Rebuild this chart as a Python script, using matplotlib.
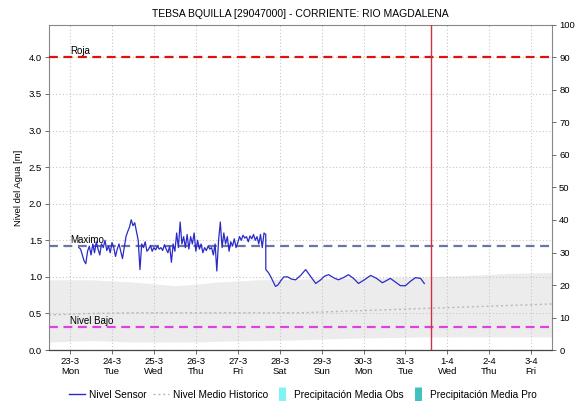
import numpy as np
import matplotlib
matplotlib.use("Agg")
import matplotlib.pyplot as plt
from matplotlib.lines import Line2D

plt.rcParams['font.family'] = ['Liberation Sans', 'DejaVu Sans']

# time axis in days, 0 = 23-3 00:00
day_labels = ['23-3\nMon', '24-3\nTue', '25-3\nWed', '26-3\nThu', '27-3\nFri', '28-3\nSat',
              '29-3\nSun', '30-3\nMon', '31-3\nTue', '1-4\nWed', '2-4\nThu', '3-4\nFri']

# sensor readings, hourly, starting 23-3 05:00
sensor_start = 0.21
sensor_hourly = [1.40, 1.38, 1.30, 1.22, 1.18, 1.35, 1.42, 1.30,
                 1.45, 1.33, 1.48, 1.38, 1.30, 1.45, 1.40, 1.50, 1.36, 1.42, 1.33,
                 1.47, 1.40, 1.28, 1.38, 1.45, 1.35, 1.25, 1.40,
                 1.55, 1.62, 1.68, 1.78, 1.70, 1.74, 1.62,
                 1.50, 1.10, 1.45, 1.40, 1.48, 1.35,
                 1.38, 1.43, 1.35, 1.40, 1.37, 1.42, 1.38, 1.40, 1.36, 1.44, 1.38, 1.33, 1.42, 1.20,
                 1.45, 1.35, 1.60, 1.40, 1.75, 1.45,
                 1.55, 1.40, 1.58, 1.38, 1.55, 1.45, 1.60, 1.35, 1.50,
                 1.38, 1.45, 1.33, 1.40, 1.36, 1.42, 1.38, 1.40, 1.30, 1.45,
                 1.08, 1.50, 1.75, 1.40, 1.60, 1.45, 1.55,
                 1.35, 1.48, 1.42, 1.52, 1.40, 1.47, 1.55, 1.50, 1.57,
                 1.53, 1.55, 1.48, 1.56, 1.52, 1.58, 1.50, 1.55, 1.45, 1.58, 1.40, 1.60, 1.58]
# after the drop on 27-3
sensor_tail_days = [4.67, 4.73, 4.79, 4.85, 4.90, 4.96, 5.03, 5.10, 5.19, 5.28, 5.38, 5.50, 5.62,
                    5.72, 5.86, 5.98, 6.07, 6.17, 6.28, 6.40, 6.52, 6.64, 6.76, 6.88,
                    7.02, 7.17, 7.31, 7.45, 7.55, 7.64, 7.76, 7.88, 8.00, 8.12, 8.24,
                    8.36, 8.45]
sensor_tail = [1.10, 1.06, 1.00, 0.93, 0.87, 0.89, 0.95, 1.00, 1.00, 0.97, 0.96, 1.02, 1.10,
               1.02, 0.91, 0.96, 1.01, 1.03, 0.99, 0.96, 0.99, 1.03, 0.98, 0.91,
               0.96, 1.02, 0.98, 0.92, 0.95, 0.98, 0.93, 0.88, 0.88, 0.94, 0.99,
               0.98, 0.91]

# historic envelope and mean
hist_days = [-0.5, 0.5, 1.5, 2.5, 3.0, 3.5, 4.5, 5.5, 6.5, 7.5, 8.5, 9.5, 10.5, 11.5]
hist_upper = [0.96, 0.96, 0.93, 0.88, 0.90, 0.93, 0.96, 0.97, 0.98, 0.99, 1.00, 1.02, 1.05, 1.06]
hist_lower = [0.11, 0.13, 0.11, 0.11, 0.11, 0.12, 0.13, 0.14, 0.16, 0.17, 0.18, 0.18, 0.18, 0.18]
hist_mean = [0.48, 0.50, 0.51, 0.51, 0.51, 0.51, 0.51, 0.51, 0.53, 0.55, 0.57, 0.59, 0.61, 0.63]

roja = 4.0
maximo = 1.42
nivel_bajo = 0.31
now_day = 8.61

fig = plt.figure(figsize=(5.77, 4.01), dpi=100)
ax = fig.add_axes([0.085, 0.127, 0.872, 0.811])

ax.fill_between(hist_days, hist_lower, hist_upper, color='#ececec', lw=0, zorder=1)
ax.plot(hist_days, hist_mean, color='#b8b8b8', ls=(0, (1.5, 2)), lw=1.0, zorder=2)

ax.axhline(roja, color='#dd1111', ls=(0, (4, 2.5)), lw=1.6, zorder=3)
ax.axhline(maximo, color='#6676a8', ls=(0, (4, 2.5)), lw=1.6, zorder=3)
ax.axhline(nivel_bajo, color='#e040e0', ls=(0, (4, 2.5)), lw=1.6, zorder=3)
ax.axvline(now_day, color='#d03040', lw=1.0, zorder=3)

ax.text(0, roja + 0.02, 'Roja', fontsize=7, va='bottom', zorder=4)
ax.text(0, maximo + 0.01, 'Maximo', fontsize=7, va='bottom', zorder=4)
ax.text(0, nivel_bajo + 0.02, 'Nivel Bajo', fontsize=7, va='bottom', zorder=4)

t = sensor_start + np.arange(len(sensor_hourly)) / 24.0
days = np.concatenate([t, sensor_tail_days])
vals = np.concatenate([sensor_hourly, sensor_tail])
ax.plot(days, vals, color='#2a2ac8', lw=0.9, zorder=5)

ax.set_xlim(-0.5, 11.5)
ax.set_ylim(0, 4.444)
ax.set_xticks(range(len(day_labels)))
ax.set_xticklabels(day_labels, fontsize=6.8, linespacing=1.1)
ax.set_yticks(np.arange(0, 4.01, 0.5))
ax.set_yticklabels(['%.1f' % v for v in np.arange(0, 4.01, 0.5)], fontsize=6.8)
ax.tick_params(length=3, width=0.6, color='#555555', pad=2)
ax.grid(color='#c8c8c8', ls=(0, (1, 2)), lw=0.8, zorder=0)
ax.set_ylabel('Nivel del Agua [m]', fontsize=6.8, labelpad=4)
ax.set_title('TEBSA BQUILLA [29047000] - CORRIENTE: RIO MAGDALENA', fontsize=7.5, pad=6)

for s in ['left', 'right', 'top']:
    ax.spines[s].set_color('#888888')
    ax.spines[s].set_linewidth(0.8)
ax.spines['bottom'].set_color('#444444')
ax.spines['bottom'].set_linestyle((0, (1, 1)))
ax.spines['bottom'].set_linewidth(0.9)

ax2 = ax.twinx()
ax2.set_ylim(0, 100)
ax2.set_yticks(range(0, 101, 10))
ax2.tick_params(labelsize=6.8, length=3, width=0.6, color='#555555', pad=2)
for s in ax2.spines.values():
    s.set_visible(False)

handles = [Line2D([], [], color='#2a2ac8', lw=1.0),
           Line2D([], [], color='#b8b8b8', lw=1.0, ls=(0, (1.5, 2))),
           Line2D([], [], ls='', marker='|', markersize=10, markeredgewidth=5, color='#80f4f4'),
           Line2D([], [], ls='', marker='|', markersize=10, markeredgewidth=5, color='#40c0c0')]
labels = ['Nivel Sensor', 'Nivel Medio Historico', 'Precipitación Media Obs', 'Precipitación Media Pro']
fig.legend(handles, labels, loc='lower center', bbox_to_anchor=(0.525, -0.02), ncol=4,
           frameon=False, fontsize=7.3, handlelength=1.6, handletextpad=0.4,
           columnspacing=0.6)

fig.savefig('out.png', dpi=100)
